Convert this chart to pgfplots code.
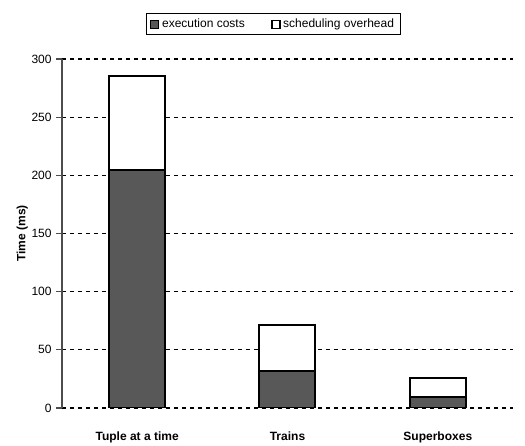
\documentclass[border=0pt]{standalone}
\usepackage{pgfplots}
\pgfplotsset{compat=1.18}
\usepackage{fontspec}
\setmainfont{Liberation Sans}
\definecolor{dk}{RGB}{88,88,88}
\begin{document}
\begin{tikzpicture}
\useasboundingbox (-46.5pt,-28.5pt) rectangle (347.25pt,306pt);
\begin{axis}[
  scale only axis, width=338.25pt, height=261.75pt,
  xmin=-0.5, xmax=2.5, ymin=0, ymax=300,
  ybar stacked, bar width=42pt,
  xtick={0,1,2}, xticklabels={Tuple at a time,Trains,Superboxes},
  xticklabel style={font=\bfseries\small, yshift=-10pt},
  major x tick style={draw=none},
  ytick={0,50,...,300},
  yticklabel style={font=\small},
  /pgf/number format/assume math mode=true,
  ylabel={\bfseries Time (ms)}, ylabel style={font=\small, yshift=-4pt},
  axis x line*=bottom, x axis line style={draw=none},
  axis y line*=left,
  y axis line style={-, thick, black!70},
  ytick style={black!70, thick},
  tick align=outside,
  ymajorgrids, grid style={black, dashed, thick},
  legend columns=2,
  legend style={at={(0.469,1.1)}, anchor=center, font=\small, draw=black, thick,
    /tikz/every even column/.append style={column sep=18pt}},
  legend image code/.code={\draw[#1, thick] (0pt,-3pt) rectangle (6pt,3pt);},
]
\addplot+[fill=dk, draw=black, line width=1.5pt] coordinates {(0,205) (1,32) (2,9.5)};
\addplot+[fill=white, draw=black, line width=1.5pt] coordinates {(0,80) (1,39.5) (2,16.5)};
\legend{execution costs, scheduling overhead}
\end{axis}
\end{tikzpicture}
\end{document}
